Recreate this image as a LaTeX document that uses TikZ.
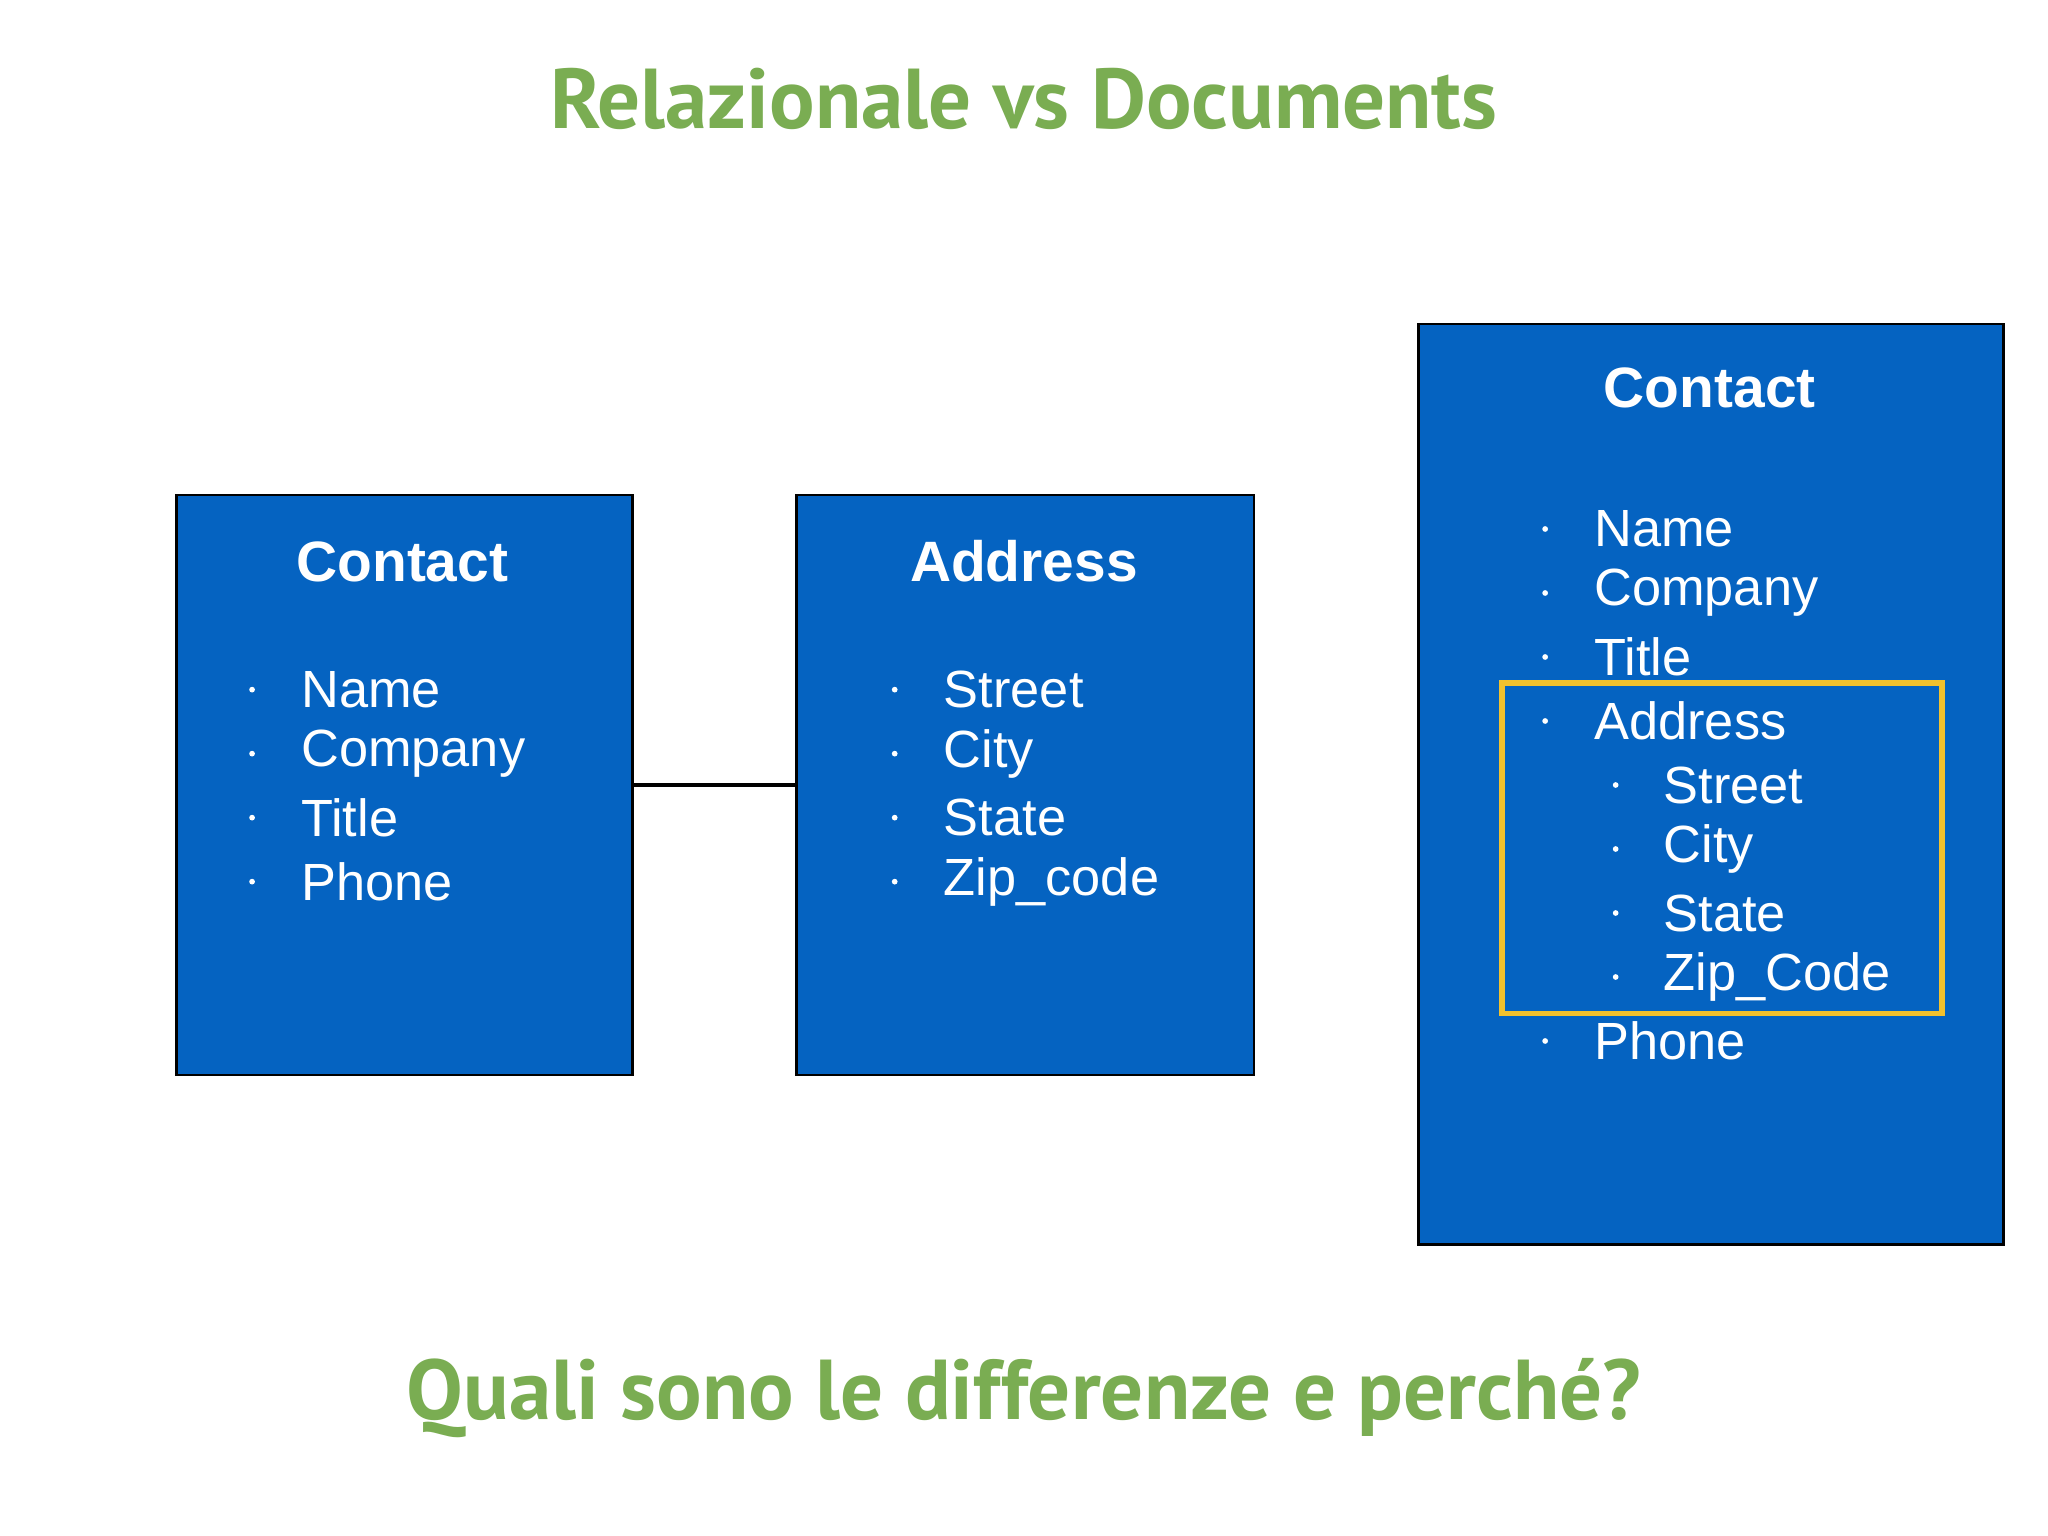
\documentclass[tikz,border=0pt]{standalone}
\usepackage{fontspec}
\setmainfont{Liberation Sans}
\newfontfamily\titlefont{PT Sans}
\definecolor{boxblue}{HTML}{0563C1}
\definecolor{tgreen}{HTML}{7AAD52}
\definecolor{ybox}{HTML}{F2C12E}
\begin{document}
\begin{tikzpicture}[x=0.1mm,y=-0.1mm,
  tbox/.style={draw=black,fill=boxblue,line width=0.6pt},
  head/.style={text=white,font=\fontsize{12.4}{14}\selectfont\bfseries},
  item/.style={text=white,anchor=west,font=\fontsize{11.4}{13}\selectfont,inner sep=0pt},
  dotb/.style={fill=white,draw=none},
  ttl/.style={text=tgreen,font=\titlefont\bfseries\fontsize{18.5}{22}\selectfont}]
\useasboundingbox (0,0) rectangle (1568,1176);
\fill[white] (0,0) rectangle (1568,1176);
\node[ttl] (t1) at (784,76) {Relazionale vs Documents};
\node[ttl] (t2) at (784,1070) {Quali sono le differenze e perché?};
\node[tbox,minimum width=349*0.1mm,minimum height=444*0.1mm,anchor=north west] (c) at (134,378) {};
\node[tbox,minimum width=350*0.1mm,minimum height=444*0.1mm,anchor=north west] (a) at (609,378) {};
\node[tbox,minimum width=448*0.1mm,minimum height=705*0.1mm,anchor=north west] (d) at (1085,247) {};
\draw[line width=1pt] (c.east) -- (a.west);
\draw[ybox,line width=1.2pt] (1150,523) rectangle (1487,776);
\node[head] (ch) at (308,430) {Contact};
\node[head] (ah) at (784,430) {Address};
\node[head] (dh) at (1309,297) {Contact};
\foreach \t [count=\i] in {Name,Company,Title,Phone}{
  \fill[dotb] (193,{479+49*\i}) circle (2.2);
  \node[item] (c\i) at (230,{479+49*\i}) {\t};}
\foreach \t [count=\i] in {Street,City,State,Zip\_code}{
  \fill[dotb] (685,{479+49*\i}) circle (2.2);
  \node[item] (a\i) at (722,{479+49*\i}) {\t};}
\foreach \t [count=\i] in {Name,Company,Title,Address}{
  \fill[dotb] (1183,{356+49*\i}) circle (2.2);
  \node[item] (d\i) at (1220,{356+49*\i}) {\t};}
\foreach \t [count=\i] in {Street,City,State,Zip\_Code}{
  \fill[dotb] (1237,{552+49*\i}) circle (2.2);
  \node[item] (s\i) at (1273,{552+49*\i}) {\t};}
\fill[dotb] (1183,797) circle (2.2);
\node[item] (dp) at (1220,797) {Phone};
\end{tikzpicture}
\end{document}
